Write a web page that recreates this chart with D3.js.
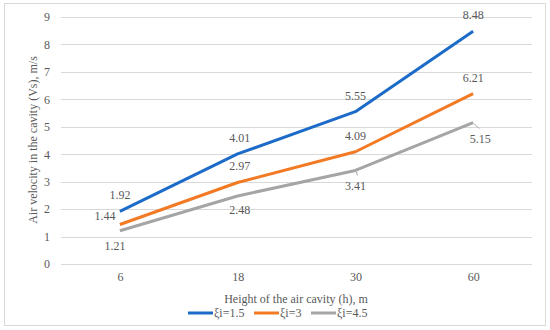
<!DOCTYPE html>
<html>
<head>
<meta charset="utf-8">
<script src="https://cdn.jsdelivr.net/npm/d3@7"></script>
<style>
  body { margin: 0; background: #fff; }
  svg text { font-family: "Liberation Serif", "DejaVu Serif", serif; fill: #595959; }
</style>
</head>
<body>
<svg width="550" height="330"></svg>
<script>
var categories = ['6', '18', '30', '60'];
var seriesNames = ['ξi=1.5', 'ξi=3', 'ξi=4.5'];
var seriesA = [1.92, 4.01, 5.55, 8.48];
var seriesB = [1.44, 2.97, 4.09, 6.21];
var seriesC = [1.21, 2.48, 3.41, 5.15];
var yTicks = [0, 1, 2, 3, 4, 5, 6, 7, 8, 9];

var COLORS = ['#1c6bc8', '#f27a24', '#a5a5a5'];
// label offsets per series & point: [dx, dy] relative to the point
var LABEL_POS = [
  [[0, -12], [2, -12], [0, -12], [0, -12]],
  [[-15, -4], [2, -12], [0, -12], [0, -12]],
  [[-5, 19], [2, 18], [0, 20], [7, 20]]
];

var svg = d3.select('svg');
var margin = { left: 61, right: 18, top: 17, bottom: 66 };
var width = 550, height = 330;

svg.append('rect')
  .attr('x', 4.5).attr('y', 3.5)
  .attr('width', 541).attr('height', 322)
  .style('fill', 'none').style('stroke', '#d9d9d9');

var x = d3.scalePoint()
  .domain(categories)
  .range([margin.left, width - margin.right])
  .padding(0.5);

var y = d3.scaleLinear()
  .domain([0, 9])
  .range([264, 17]);

// gridlines
svg.append('g').selectAll('line')
  .data(yTicks)
  .enter().append('line')
  .attr('x1', margin.left).attr('x2', width - margin.right)
  .attr('y1', function (d) { return Math.round(y(d)) + 0.5; })
  .attr('y2', function (d) { return Math.round(y(d)) + 0.5; })
  .style('stroke', '#d9d9d9').style('stroke-width', 1);

var yAxis = svg.append('g')
  .attr('transform', 'translate(' + (margin.left - 11) + ',0)')
  .call(d3.axisLeft(y).tickValues(yTicks).tickSize(0).tickPadding(0));
yAxis.select('.domain').remove();
yAxis.selectAll('text').style('font-size', '12px').style('fill', '#595959');

var xAxis = svg.append('g')
  .attr('transform', 'translate(0,' + 272 + ')')
  .call(d3.axisBottom(x).tickSize(0).tickPadding(0));
xAxis.select('.domain').remove();
xAxis.selectAll('text').style('font-size', '12px').style('fill', '#595959');

svg.append('text')
  .attr('x', 296).attr('y', 303)
  .attr('text-anchor', 'middle')
  .style('font-size', '12px')
  .text('Height of the air cavity (h), m');

svg.append('text')
  .attr('transform', 'translate(37,' + 140 + ') rotate(-90)')
  .attr('text-anchor', 'middle')
  .style('font-size', '12px')
  .text('Air velocity in the cavity (Vs), m/s');

var allSeries = [seriesA, seriesB, seriesC];
var line = d3.line()
  .x(function (d, i) { return x(categories[i]); })
  .y(function (d) { return y(d); });

// draw gray first so blue sits on top
[2, 1, 0].forEach(function (s) {
  svg.append('path')
    .datum(allSeries[s])
    .attr('d', line)
    .style('fill', 'none')
    .style('stroke', COLORS[s])
    .style('stroke-width', 3)
    .style('stroke-linejoin', 'round');
});

// leader lines for a couple of gray labels
[[2, 2], [2, 3]].forEach(function (p) {
  var s = p[0], i = p[1];
  var px = x(categories[i]), py = y(allSeries[s][i]);
  var l = i === 3 ? [[px + 1, py + 1], [px + 6, py + 6]] : [[px + 1, py + 1], [px + 2, py + 5]];
  svg.append('path')
    .attr('d', d3.line()(l))
    .style('fill', 'none').style('stroke', '#a5a5a5').style('stroke-width', 1);
});

allSeries.forEach(function (vals, s) {
  svg.append('g').selectAll('text')
    .data(vals)
    .enter().append('text')
    .attr('x', function (d, i) { return x(categories[i]) + LABEL_POS[s][i][0]; })
    .attr('y', function (d, i) { return y(d) + LABEL_POS[s][i][1]; })
    .attr('text-anchor', 'middle')
    .style('font-size', '12px')
    .text(function (d) { return d.toFixed(2); });
});

// legend
var legend = svg.append('g').attr('transform', 'translate(188,313)');
var legendX = [0, 66, 123];
seriesNames.forEach(function (name, i) {
  var g = legend.append('g').attr('transform', 'translate(' + legendX[i] + ',0)');
  g.append('line')
    .attr('x1', 0).attr('x2', 25)
    .attr('y1', 0).attr('y2', 0)
    .style('stroke', COLORS[i]).style('stroke-width', 3);
  g.append('text')
    .attr('x', 26).attr('y', 4)
    .style('font-size', '12px')
    .text(name);
});
</script>
</body>
</html>
